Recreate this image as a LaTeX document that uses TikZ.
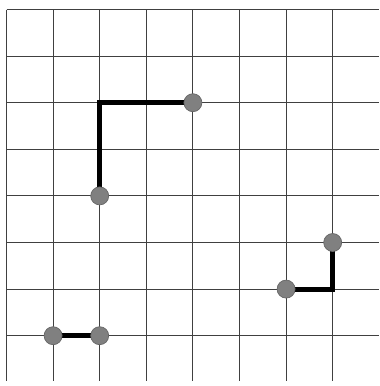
\documentclass[tikz,border=0pt]{standalone}
\begin{document}
\begin{tikzpicture}[x=1pt,y=1pt,
  gridline/.style={draw=black!75, line width=0.9pt},
  pathline/.style={line width=5pt, line join=miter},
  dot/.style={circle, fill=black!50, draw=black!60, line width=0.7pt, minimum size=18pt, inner sep=0pt}]
\useasboundingbox (0,0) rectangle (380,-386);
\begin{scope}[shift={(6.5,-9.5)}, x=46.6pt, y=-46.6pt]
  \foreach \i in {0,...,7} {
    \draw[gridline] (\i,0) -- (\i,7.98);
    \draw[gridline] (0,\i) -- (7.99,\i);
  }
  \coordinate (c1) at (2,2);
  \coordinate (c2) at (6,6);
  \coordinate (c3) at (7,6);
  \node[dot, opacity=0] (a1) at (2,4) {};
  \node[dot, opacity=0] (a2) at (4,2) {};
  \node[dot, opacity=0] (b1) at (6,6) {};
  \node[dot, opacity=0] (b2) at (7,5) {};
  \node[dot, opacity=0] (d1) at (1,7) {};
  \node[dot, opacity=0] (d2) at (2,7) {};
  \draw[pathline] (a1.center) -- (c1) -- (a2.center);
  \draw[pathline] (b1.center) -- (c3) -- (b2.center);
  \draw[pathline] (d1.center) -- (d2.center);
  \foreach \n in {a1,a2,b1,b2,d1,d2} \node[dot] at (\n) {};
\end{scope}
\end{tikzpicture}
\end{document}
